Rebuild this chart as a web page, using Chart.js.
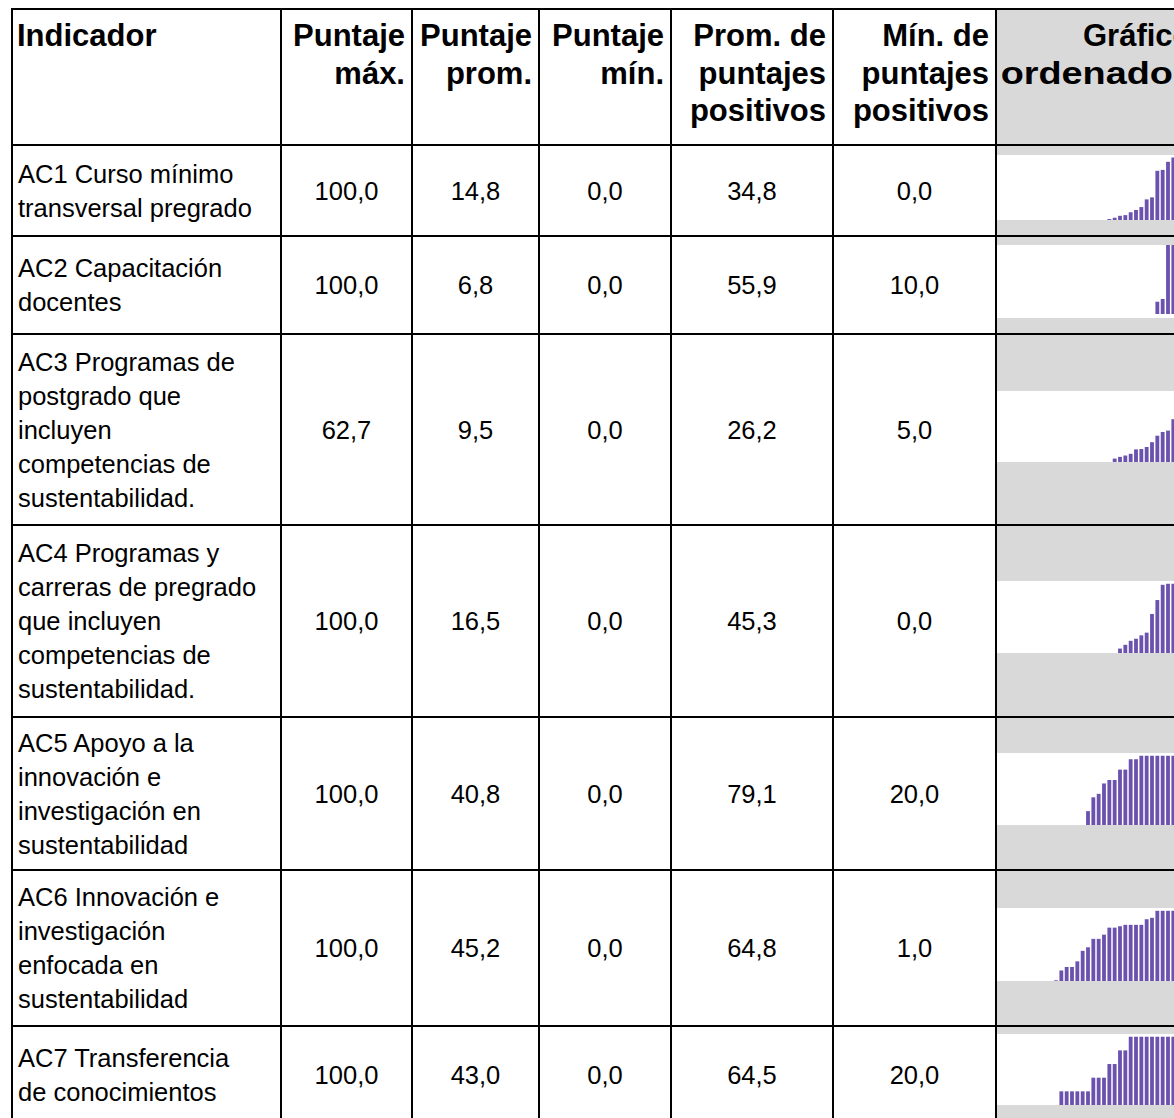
<!DOCTYPE html>
<html>
<head>
<meta charset="utf-8">
<script src="https://cdn.jsdelivr.net/npm/chart.js@4.4.1/dist/chart.umd.min.js"></script>
<style>
    body { margin: 0; width: 1174px; height: 1118px; overflow: hidden; background: #fff;
           font-family: "Liberation Sans", Arial, sans-serif; color: #000; }
    .tabla { position: absolute; left: 11px; top: 8px; display: grid; gap: 2px; padding: 2px; background: #000;
             grid-template-columns: 267px 129px 125px 130px 160px 161px 290px;
             grid-template-rows: 134px 89px 96px 189px 190px 151px 154px 96px; }
    .celda { background: #fff; font-size: 25.5px; line-height: 34px; display: flex; align-items: center;
             justify-content: center; white-space: pre-line; position: relative; }
    .celda.nombre { justify-content: flex-start; padding-left: 5px; }
    .cab { background: #fff; font-weight: bold; font-size: 31px; line-height: 37.5px; text-align: right;
           padding: 7px 6px 0 0; white-space: pre-line; overflow: hidden; }
    .cab.izq { text-align: left; padding-left: 4px; }
    .cab.graf, .celda.graf { background: #d9d9d9; }
    .cab.graf { text-align: left; padding: 7px 0 0 0; }
    .cab.graf .l1 { display: block; padding-left: 86px; }
    .cab.graf .l2 { display: block; padding-left: 3px; transform: scaleX(1.22); transform-origin: left center; }
    .caja { position: absolute; left: 0; width: 290px; background: #fff; overflow: hidden; }
    .caja canvas { position: absolute; left: 3px; }
</style>
</head>
<body>
<div class="tabla" id="tabla"></div>
<script>
const CABECERAS = ["Indicador", "Puntaje\nmáx.", "Puntaje\nprom.", "Puntaje\nmín.",
    "Prom. de\npuntajes\npositivos", "Mín. de\npuntajes\npositivos", "Gráfico\nordenado"];
const INDICADORES = [
    "AC1 Curso mínimo\ntransversal pregrado",
    "AC2 Capacitación\ndocentes",
    "AC3 Programas de\npostgrado que\nincluyen\ncompetencias de\nsustentabilidad.",
    "AC4 Programas y\ncarreras de pregrado\nque incluyen\ncompetencias de\nsustentabilidad.",
    "AC5 Apoyo a la\ninnovación e\ninvestigación en\nsustentabilidad",
    "AC6 Innovación e\ninvestigación\nenfocada en\nsustentabilidad",
    "AC7 Transferencia\nde conocimientos"
];
const PUNTAJE_MAX = [100.0, 100.0, 62.7, 100.0, 100.0, 100.0, 100.0];
const PUNTAJE_PROM = [14.8, 6.8, 9.5, 16.5, 40.8, 45.2, 43.0];
const PUNTAJE_MIN = [0.0, 0.0, 0.0, 0.0, 0.0, 0.0, 0.0];
const PROM_POSITIVOS = [34.8, 55.9, 26.2, 45.3, 79.1, 64.8, 64.5];
const MIN_POSITIVOS = [0.0, 10.0, 5.0, 0.0, 20.0, 1.0, 20.0];

// puntajes ordenados de cada indicador (33 instituciones)
const ORDEN_AC1 = [0,0,0,0,0,0,0,0,0,0,0,0,0,0,0,0,0,0,0,0.04,1.5,3.6,6.7,7.8,12.4,16,20.7,33,36.2,78.7,80.2,93.1,100];
const ORDEN_AC2 = [0,0,0,0,0,0,0,0,0,0,0,0,0,0,0,0,0,0,0,0,0,0,0,0,0,0,0,0,0,17.5,21.4,100,100];
const ORDEN_AC3 = [0,0,0,0,0,0,0,0,0,0,0,0,0,0,0,0,0,0,0,0,0,5.0,7.5,9.5,12,18.5,19,22,29,38.5,44,46,62.7];
const ORDEN_AC4 = [0,0,0,0,0,0,0,0,0,0,0,0,0,0,0,0,0,0,0,0,0,0.04,6.4,11.8,17.6,20.6,25.5,29.4,56.4,76.5,98.5,100,100];
const ORDEN_AC5 = [0,0,0,0,0,0,0,0,0,0,0,0,0,0,0,0,20,40,45,60,65,65,80,80,95,95,100,100,100,100,100,100,100];
const ORDEN_AC6 = [0,0,0,0,0,0,0,0,0,0,1,15,20,20,28,43,48,60,60,66,76,76,78,80,80,80,80,88,90,100,100,100,100];
const ORDEN_AC7 = [0,0,0,0,0,0,0,0,0,0,0,20,20,20,20,20,20,40,40,40,60,60,80,80,100,100,100,100,100,100,100,100,100];
const ORDENADOS = [ORDEN_AC1, ORDEN_AC2, ORDEN_AC3, ORDEN_AC4, ORDEN_AC5, ORDEN_AC6, ORDEN_AC7];

// caja blanca del minigrafico: [top, alto] dentro de la celda, y desplazamiento del canvas
const CAJAS = [[9, 65, 0], [8, 73, 4], [56, 71, 0], [55, 72, 0], [35, 72, 0], [37, 73, 0], [7, 71, 0]];

function fmt(v) {
    return v.toFixed(1).replace(".", ",");
}

function crearCelda(clase, texto) {
    const CELDA = document.createElement("div");
    CELDA.className = clase;
    CELDA.textContent = texto;
    return CELDA;
}

function crearCabeceraGrafico(texto) {
    const CELDA = document.createElement("div");
    CELDA.className = "cab graf";
    texto.split("\n").forEach((linea, i) => {
        const SPAN = document.createElement("span");
        SPAN.className = "l" + (i + 1);
        SPAN.textContent = linea;
        CELDA.appendChild(SPAN);
    });
    return CELDA;
}

function crearMiniGrafico(celda, fila) {
    const [top, alto, subir] = CAJAS[fila];
    const CAJA = document.createElement("div");
    CAJA.className = "caja";
    CAJA.style.top = top + "px";
    CAJA.style.height = alto + "px";
    const CANVAS = document.createElement("canvas");
    CANVAS.width = 176;
    CANVAS.height = alto;
    CANVAS.style.width = "176px";
    CANVAS.style.height = alto + "px";
    CANVAS.style.top = -subir + "px";
    CAJA.appendChild(CANVAS);
    celda.appendChild(CAJA);

    new Chart(CANVAS.getContext("2d"), {
        type: "bar",
        data: {
            labels: ORDENADOS[fila].map((_, i) => i + 1),
            datasets: [{
                data: ORDENADOS[fila],
                backgroundColor: "#6a52ae",
                borderWidth: 0,
                barPercentage: 0.72,
                categoryPercentage: 1.0
            }]
        },
        options: {
            responsive: false,
            animation: false,
            devicePixelRatio: 1,
            layout: { padding: 0 },
            scales: {
                x: { display: false },
                y: { display: false, min: 0, max: 104 }
            },
            plugins: { legend: { display: false }, tooltip: { enabled: false } }
        }
    });
}

function crearTabla() {
    const TABLA = document.getElementById("tabla");
    CABECERAS.forEach((t, i) => {
        if (i === CABECERAS.length - 1) {
            TABLA.appendChild(crearCabeceraGrafico(t));
            return;
        }
        TABLA.appendChild(crearCelda(i === 0 ? "cab izq" : "cab", t));
    });
    INDICADORES.forEach((nombre, f) => {
        TABLA.appendChild(crearCelda("celda nombre", nombre));
        TABLA.appendChild(crearCelda("celda", fmt(PUNTAJE_MAX[f])));
        TABLA.appendChild(crearCelda("celda", fmt(PUNTAJE_PROM[f])));
        TABLA.appendChild(crearCelda("celda", fmt(PUNTAJE_MIN[f])));
        TABLA.appendChild(crearCelda("celda", fmt(PROM_POSITIVOS[f])));
        TABLA.appendChild(crearCelda("celda", fmt(MIN_POSITIVOS[f])));
        const GRAF = crearCelda("celda graf", "");
        TABLA.appendChild(GRAF);
        crearMiniGrafico(GRAF, f);
    });
}

crearTabla();
</script>
</body>
</html>
